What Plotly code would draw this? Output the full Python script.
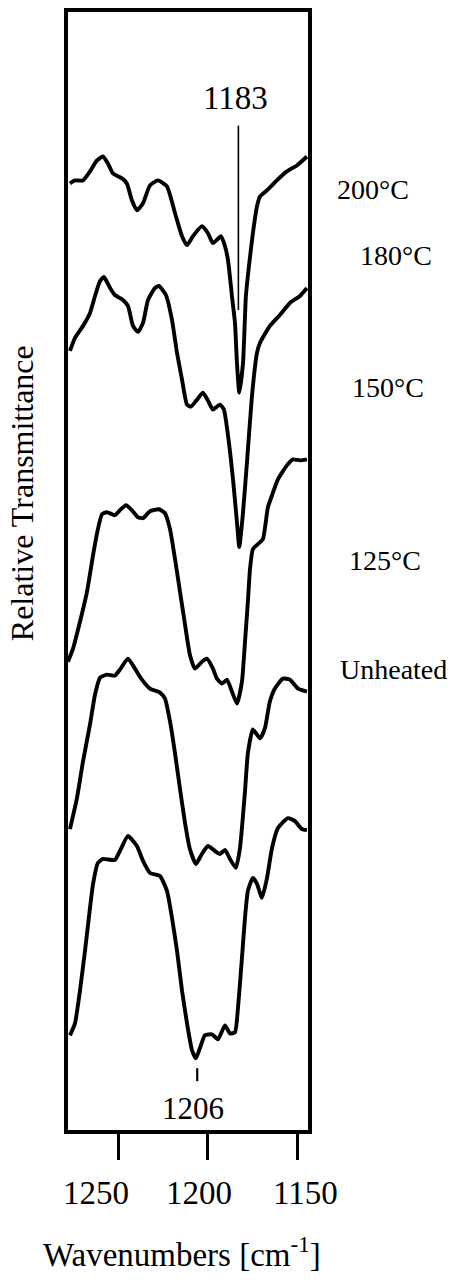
import plotly.graph_objects as go

# Wavenumbers (cm^-1) and relative transmittance (arbitrary, offset) per spectrum
wn_200 = [1277.1, 1274.3, 1269.8, 1265.9, 1262.0, 1258.7, 1255.9, 1253.1, 1248.0, 1245.3,
          1242.5, 1239.7, 1236.3, 1232.4, 1227.9, 1222.9, 1218.4, 1214.5, 1211.7, 1208.4,
          1203.4, 1200.0, 1197.2, 1192.7, 1190.5, 1188.8, 1186.6, 1184.9, 1183.8, 1182.5,
          1180.4, 1178.8, 1177.1, 1174.9, 1172.6, 1170.9, 1167.0, 1161.5, 1155.9, 1150.3, 1144.7]
t_200 = [95.0, 95.3, 95.3, 96.2, 97.3, 97.7, 97.0, 96.0, 95.5, 95.0,
         93.3, 92.3, 93.0, 94.8, 95.3, 94.7, 92.0, 89.7, 88.8, 89.7,
         90.7, 90.0, 89.0, 89.7, 88.7, 87.3, 83.7, 81.0, 77.0, 74.0,
         77.0, 83.7, 86.7, 90.0, 92.7, 93.7, 94.3, 95.3, 96.2, 96.8, 97.7]

wn_180 = [1277.1, 1274.3, 1269.8, 1265.9, 1263.1, 1260.3, 1258.1, 1254.7, 1252.0, 1247.5,
          1244.7, 1241.9, 1239.1, 1236.3, 1233.5, 1229.6, 1227.4, 1223.5, 1220.1, 1217.3,
          1214.5, 1211.7, 1209.5, 1206.1, 1202.8, 1200.0, 1197.2, 1193.3, 1191.1, 1188.8,
          1186.0, 1183.8, 1182.5, 1180.4, 1178.2, 1175.4, 1172.6, 1170.9, 1165.4, 1159.8,
          1154.2, 1148.6, 1144.7]
t_180 = [78.2, 79.5, 80.7, 82.0, 83.7, 85.2, 85.6, 84.5, 83.8, 83.3,
         82.7, 80.7, 80.1, 81.0, 83.3, 84.5, 84.7, 83.8, 81.3, 78.0,
         75.3, 72.8, 72.6, 73.3, 74.0, 73.2, 72.3, 72.8, 72.3, 69.7,
         65.3, 61.0, 58.5, 62.0, 67.0, 73.7, 78.0, 79.0, 80.7, 81.8,
         83.0, 83.7, 84.5]

wn_150 = [1278.2, 1275.4, 1271.5, 1267.6, 1264.2, 1261.5, 1259.2, 1256.4, 1252.0, 1249.2,
          1245.8, 1242.5, 1239.1, 1236.3, 1232.4, 1227.4, 1224.0, 1221.2, 1218.4, 1215.6,
          1212.8, 1210.1, 1207.3, 1203.4, 1200.6, 1197.2, 1195.0, 1192.2, 1189.4, 1186.6,
          1183.8, 1181.0, 1179.3, 1177.7, 1176.5, 1174.9, 1172.1, 1169.3, 1166.5, 1164.2,
          1160.9, 1155.9, 1152.5, 1148.6, 1144.7]
t_150 = [47.0, 48.3, 51.0, 54.0, 57.7, 60.3, 61.8, 62.0, 61.7, 62.2,
         62.7, 62.2, 61.5, 61.4, 62.1, 62.3, 61.9, 60.3, 57.3, 54.0,
         50.7, 47.7, 46.3, 47.0, 47.3, 46.3, 45.3, 44.8, 45.2, 44.0,
         42.8, 45.0, 49.0, 53.0, 56.3, 58.3, 58.8, 59.3, 62.5, 63.7,
         65.3, 66.7, 67.3, 67.2, 67.3]

wn_125 = [1277.1, 1273.2, 1269.8, 1265.9, 1263.1, 1260.3, 1256.4, 1252.0, 1249.2, 1244.7,
          1240.8, 1236.9, 1232.4, 1226.8, 1224.0, 1221.2, 1218.4, 1215.6, 1212.8, 1210.1,
          1206.7, 1203.4, 1200.0, 1196.1, 1193.3, 1190.5, 1187.7, 1184.4, 1182.1, 1179.3,
          1177.7, 1174.9, 1170.9, 1168.2, 1165.4, 1162.6, 1158.1, 1154.2, 1149.7, 1144.7]
t_125 = [30.2, 33.3, 37.0, 40.7, 43.7, 45.4, 45.7, 45.6, 46.2, 47.3,
         46.3, 45.2, 44.3, 43.9, 43.3, 41.0, 37.8, 34.2, 30.8, 28.2,
         26.7, 27.7, 28.5, 28.0, 27.7, 28.1, 27.2, 26.3, 28.3, 34.0,
         37.8, 40.2, 39.3, 40.3, 43.0, 44.3, 45.3, 45.2, 44.3, 44.0]

wn_unh = [1277.1, 1274.3, 1271.5, 1268.7, 1265.9, 1264.2, 1261.5, 1258.7, 1252.0, 1249.2,
          1244.7, 1239.7, 1236.3, 1232.4, 1226.8, 1222.9, 1220.1, 1217.3, 1214.5, 1211.7,
          1208.9, 1206.7, 1204.5, 1201.7, 1197.8, 1194.4, 1190.5, 1187.7, 1184.9, 1183.2,
          1181.0, 1179.3, 1177.7, 1174.9, 1172.6, 1169.8, 1167.0, 1164.2, 1160.9, 1155.3,
          1151.4, 1147.5, 1144.7]
t_unh = [9.5, 10.7, 14.0, 18.0, 22.3, 24.7, 26.8, 27.2, 27.1, 28.0,
         29.5, 28.5, 27.0, 25.8, 25.5, 24.0, 21.3, 18.0, 14.0, 10.7,
         8.0, 7.2, 8.2, 9.5, 9.6, 9.1, 10.5, 9.7, 9.8, 12.3,
         17.3, 21.3, 24.0, 25.3, 24.7, 23.3, 25.3, 28.3, 30.3, 31.3,
         31.0, 30.2, 30.1]

series_names = ["200°C", "180°C", "150°C", "125°C", "Unheated"]
series_wn = [wn_200, wn_180, wn_150, wn_125, wn_unh]
series_t = [t_200, t_180, t_150, t_125, t_unh]
label_y = [94.4, 87.8, 74.5, 57.2, 46.2]
label_x = [1.1125, 1.208, 1.175, 1.1625, 1.125]

tick_vals = [1250, 1200, 1150]
tick_text = ["1250", "1200", "1150"]
# the printed tick labels sit slightly spread out from their ticks
tick_label_x = [0.1167, 0.5458, 0.9875]

FONT = "Liberation Serif"

fig = go.Figure()
for name, xs, ys in zip(series_names, series_wn, series_t):
    fig.add_trace(go.Scatter(x=xs, y=ys, mode="lines", name=name,
                             line=dict(color="black", width=3.9, shape="spline", smoothing=0.5),
                             showlegend=False, hoverinfo="skip"))

# marker line for 1183 and tick for 1206
fig.add_trace(go.Scatter(x=[1183, 1183], y=[100.8, 82.3], mode="lines",
                         line=dict(color="black", width=1.6), showlegend=False, hoverinfo="skip"))
fig.add_trace(go.Scatter(x=[1206, 1206], y=[6.2, 4.9], mode="lines",
                         line=dict(color="black", width=2.2), showlegend=False, hoverinfo="skip"))

annotations = []
for name, lx, ly in zip(series_names, label_x, label_y):
    annotations.append(dict(text=name, x=lx, y=ly, xref="paper", yref="y",
                            xanchor="left", yanchor="middle", showarrow=False,
                            font=dict(family=FONT, size=28, color="black")))
for txt, lx in zip(tick_text, tick_label_x):
    annotations.append(dict(text=txt, x=lx, y=-0.0565, xref="paper", yref="paper",
                            xanchor="center", yanchor="middle", showarrow=False,
                            font=dict(family=FONT, size=33, color="black")))
annotations.append(dict(text="1183", x=1184.5, y=103.6, xref="x", yref="y",
                        xanchor="center", yanchor="middle", showarrow=False,
                        font=dict(family=FONT, size=33, color="black")))
annotations.append(dict(text="1206", x=1208.5, y=2.2, xref="x", yref="y",
                        xanchor="center", yanchor="middle", showarrow=False,
                        font=dict(family=FONT, size=31, color="black")))
annotations.append(dict(text="Relative Transmittance", x=-0.192, y=63.9, xref="paper", yref="y",
                        textangle=-90, xanchor="center", yanchor="middle", showarrow=False,
                        font=dict(family=FONT, size=32, color="black")))
annotations.append(dict(text="Wavenumbers [cm<sup>-1</sup>]", x=0.475, y=-0.109,
                        xref="paper", yref="paper", xanchor="center", yanchor="middle",
                        showarrow=False, font=dict(family=FONT, size=33, color="black")))

fig.update_layout(
    width=474, height=1288,
    margin=dict(l=68, r=166, t=8, b=158),
    paper_bgcolor="white", plot_bgcolor="white",
    annotations=annotations,
    xaxis=dict(range=[1278.2, 1144.1], tickvals=tick_vals, showticklabels=False,
               ticks="outside", ticklen=26, tickwidth=3, tickcolor="black",
               showline=True, linewidth=3.5, linecolor="black", mirror=True,
               showgrid=False, zeroline=False),
    yaxis=dict(range=[0, 112.2], showticklabels=False, ticks="",
               showline=True, linewidth=3.5, linecolor="black", mirror=True,
               showgrid=False, zeroline=False),
)

fig.write_html("out.html")
